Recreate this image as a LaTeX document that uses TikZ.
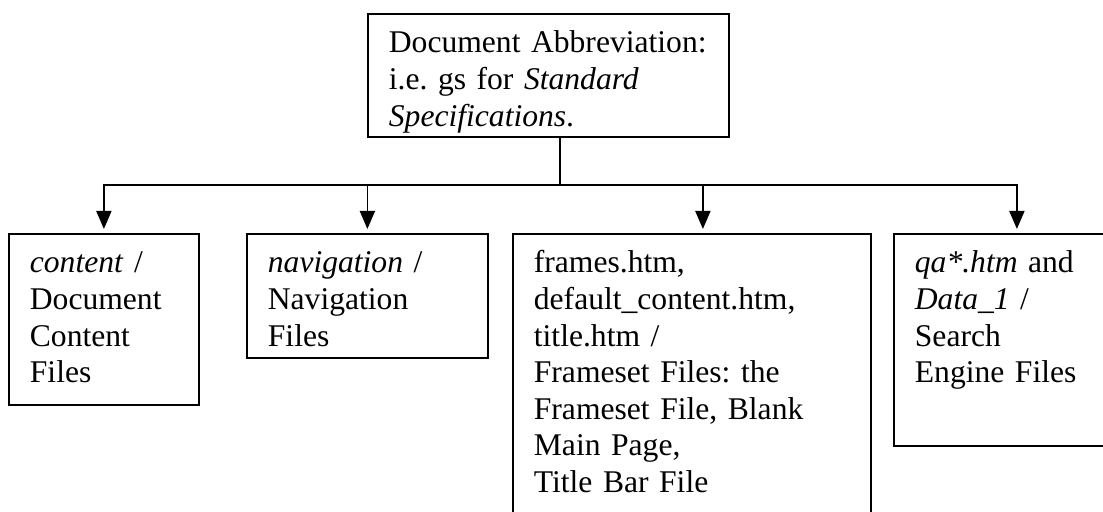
\documentclass[tikz,border=0pt]{standalone}
\usepackage{fontspec}
\setmainfont{Liberation Serif}
\usetikzlibrary{arrows.meta, positioning}
\frenchspacing
\hyphenpenalty=10000

\begin{document}
\begin{tikzpicture}[
        x=0.5pt, y=-0.5pt, line width=0.9pt, >={Triangle[length=9pt, width=7.5pt]},
        font=\fontsize{15.8}{18.3}\selectfont,
        filebox/.style={draw, anchor=north west, align=left, inner xsep=10.5pt, inner ysep=0pt, text height=19.5pt},
        ]
        \useasboundingbox (0,0) rectangle (1103,512);
        \node[filebox, text width=159.5pt, text depth=42pt]   (abbr)       at (367,13)  {Document Abbreviation:\\ i.e. gs for \textit{Standard}\\ \textit{Specifications}.};
        \node[filebox, text width=74pt, text depth=66pt]    (content)    at (8,233)   {\textit{content} /\\ Document\\ Content\\ Files};
        \node[filebox, text width=99.5pt, text depth=42.5pt] (navigation) at (246,233) {\textit{navigation} /\\ Navigation\\ Files};
        \node[filebox, text width=158pt, text depth=122.5pt] (frameset)  at (512,233) {frames.htm,\\ default\_content.htm,\\ title.htm /\\ Frameset Files: the\\ Frameset File, Blank\\ Main Page,\\ Title Bar File};
        \node[filebox, text width=102pt, text depth=86.5pt] (search)     at (893,233) {\textit{qa*.htm} and\\ \textit{Data\_1} /\\ Search\\ Engine Files};

        \coordinate (split) at (560,185);
        \draw (abbr.south -| split) -- (split);
        \draw[->, shorten >=2pt] (split) -| (content.north);
        \draw[->, shorten >=2pt] (split) -| (navigation.north);
        \draw[->, shorten >=2pt] (split) -| ([xshift=5.5pt]frameset.north);
        \draw[->, shorten >=2pt] (split) -| (search.north);
      \end{tikzpicture}
\end{document}
